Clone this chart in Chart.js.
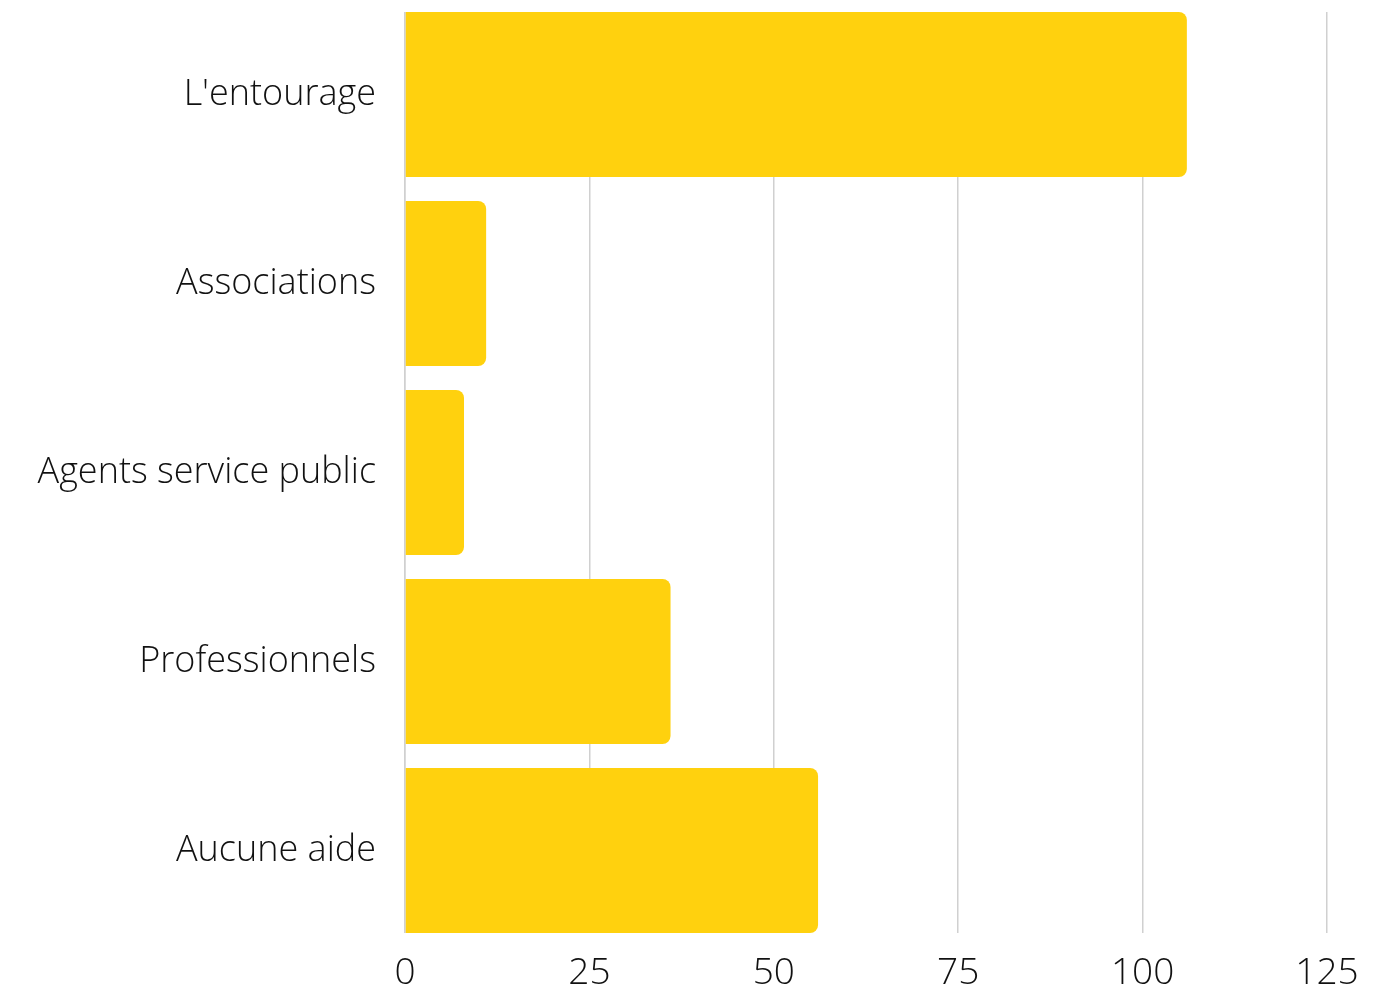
<!DOCTYPE html>
<html lang="en">
<head>
  <meta charset="UTF-8" />
  <title>Aide reçue</title>
  <script src="https://cdn.jsdelivr.net/npm/chart.js"></script>
  <style>
    body {
      margin: 0;
      background-color: #fff;
    }
    .chart-container {
      width: 1399px;
      height: 988px;
    }
  </style>
</head>
<body>
  <div class="chart-container">
    <canvas id="myChart"></canvas>
  </div>

  <script>
    // categories and values
    const categories = ["L'entourage", 'Associations', 'Agents service public', 'Professionnels', 'Aucune aide'];
    const values = [106, 11, 8, 36, 56];
    const xTicks = [0, 25, 50, 75, 100, 125];

    // grid lines only run from the top of the first bar to the bottom of the last one
    const trimGrid = {
      id: 'trimGrid',
      afterDatasetsDraw(chart) {
        const area = chart.chartArea;
        const meta = chart.getDatasetMeta(0).data;
        const top = meta[0].y - meta[0].height / 2;
        const bottom = meta[meta.length - 1].y + meta[meta.length - 1].height / 2;
        const c = chart.ctx;
        c.save();
        c.fillStyle = '#fff';
        c.fillRect(area.left - 2, area.top - 2, area.width + 4, top - area.top + 2);
        c.fillRect(area.left - 2, bottom, area.width + 4, area.bottom - bottom + 2);
        c.restore();
      }
    };

    const ctx = document.getElementById('myChart').getContext('2d');
    const myChart = new Chart(ctx, {
      type: 'bar',
      data: {
        labels: categories,
        datasets: [{
          data: values,
          backgroundColor: '#FFD10E',
          borderRadius: 8,
          borderSkipped: 'start',
          barPercentage: 0.873,
          categoryPercentage: 1
        }]
      },
      options: {
        indexAxis: 'y',
        responsive: true,
        maintainAspectRatio: false,
        animation: false,
        layout: {
          padding: { top: -1, right: 72, left: 0, bottom: 0 }
        },
        plugins: {
          legend: { display: false },
          tooltip: { enabled: false }
        },
        scales: {
          x: {
            min: 0,
            max: 125,
            afterBuildTicks: (scale) => {
              scale.ticks = xTicks.map(v => ({ value: v }));
            },
            afterFit: (scale) => {
              scale.height = 43;
              scale.paddingLeft = 0;
              scale.paddingRight = 0;
            },
            grid: {
              color: '#d0d0d0',
              lineWidth: 1.5,
              drawTicks: false
            },
            border: { display: false },
            ticks: {
              padding: 6,
              color: '#111',
              font: { family: 'Open Sans', size: 37, weight: 300 }
            }
          },
          y: {
            afterFit: (scale) => {
              scale.width = 405;
              scale.paddingTop = 0;
              scale.paddingBottom = 0;
            },
            grid: { display: false, drawTicks: false },
            border: { display: true, color: '#d0d0d0', width: 1.5 },
            ticks: {
              padding: 29,
              color: '#111',
              font: { family: 'Open Sans', size: 36, weight: 300 }
            }
          }
        }
      },
      plugins: [trimGrid]
    });
  </script>
</body>
</html>
